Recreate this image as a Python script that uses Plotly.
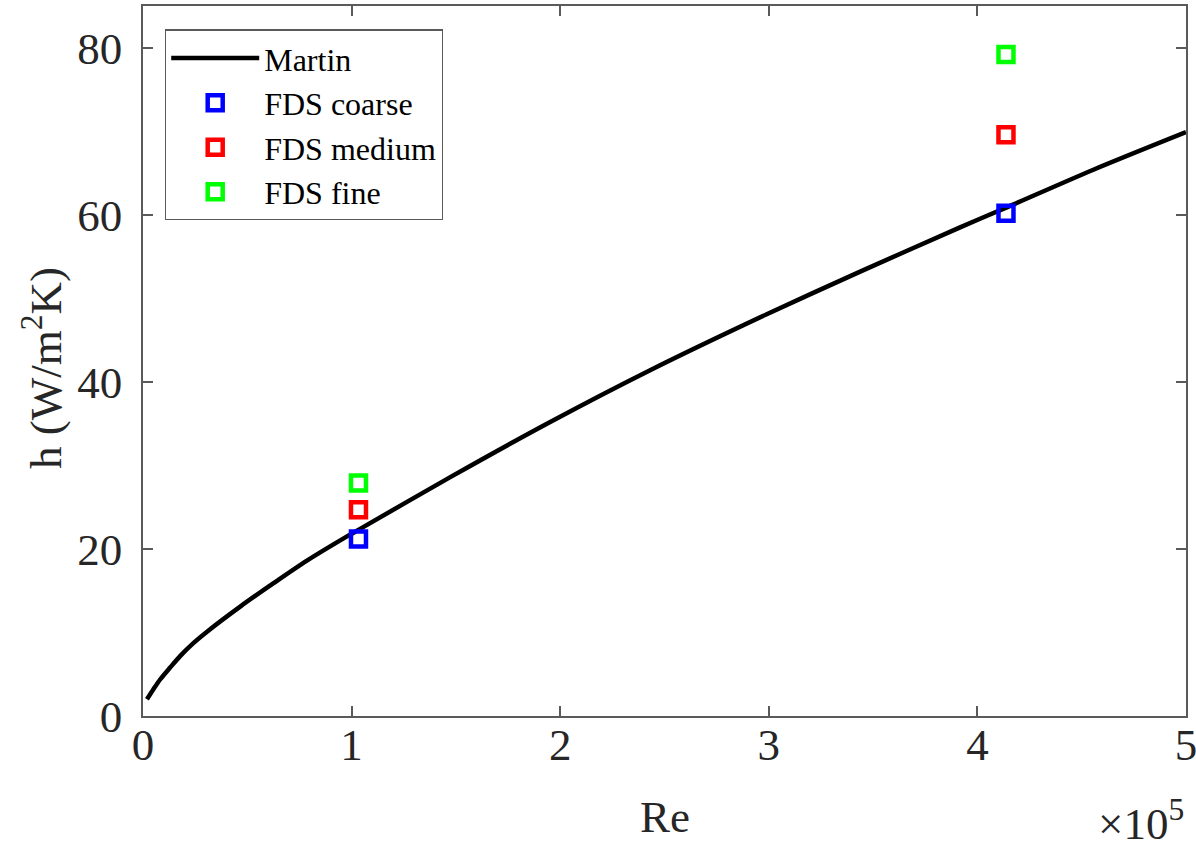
import plotly.graph_objects as go

# Martin correlation curve (Re, h)
martin_re = [1.9e3, 5.0e3, 8.3e3, 1.3e4, 1.79e4, 2.4e4, 3.07e4, 4.66e4, 6.26e4, 7.86e4,
             9.78e4, 1.041e5, 1.473e5, 1.952e5, 2.431e5, 2.99e5, 3.438e5, 3.917e5,
             4.141e5, 4.556e5, 5.0e5]
martin_h = [2.0, 3.2, 4.4, 5.8, 7.2, 8.7, 10.1, 13.1, 15.9, 18.6,
            21.5, 22.4, 28.6, 35.2, 41.4, 48.1, 53.2, 58.5,
            60.9, 65.4, 69.9]

# FDS results
fds_re = [1.033e5, 4.137e5]
coarse_h = [21.2, 60.2]
medium_h = [24.7, 69.6]
fine_h = [27.9, 79.2]

x_ticks = [0, 1e5, 2e5, 3e5, 4e5, 5e5]
x_ticktext = ["0", "1", "2", "3", "4", "5"]
y_ticks = [0, 20, 40, 60, 80]

FONT = "Liberation Serif, Times New Roman, serif"
AX = "#5a5a5a"
TXT = "#262626"

fig = go.Figure()
fig.add_trace(go.Scatter(x=martin_re, y=martin_h, mode="lines", name="Martin",
                         line=dict(color="black", width=4.5, shape="spline", smoothing=0.8)))
for name, ys, col in [("FDS coarse", coarse_h, "#0000ff"),
                      ("FDS medium", medium_h, "#ff0000"),
                      ("FDS fine", fine_h, "#00ff00")]:
    fig.add_trace(go.Scatter(x=fds_re, y=ys, mode="markers", name=name,
                             marker=dict(symbol="square-open", size=15,
                                         color=col, line=dict(color=col, width=4.5))))

axis_common = dict(showline=True, linecolor=AX, linewidth=1.5, mirror="ticks",
                   ticks="inside", ticklen=10, tickcolor=AX, tickwidth=1.5,
                   showgrid=False, zeroline=False, ticklabeloverflow="allow",
                   automargin=False,
                   tickfont=dict(family=FONT, size=45, color=TXT))

fig.update_layout(
    width=1196, height=850,
    paper_bgcolor="white", plot_bgcolor="white",
    margin=dict(l=143, r=10, t=6, b=134, autoexpand=False),
    font=dict(family=FONT, color=TXT),
    xaxis=dict(range=[0, 5e5], tickvals=x_ticks, ticktext=x_ticktext,
               ticklabelstandoff=-12, **axis_common),
    yaxis=dict(range=[0, 85], tickvals=y_ticks, ticklabelstandoff=10,
               **axis_common),
    legend=dict(x=0.021, y=0.967, xanchor="left", yanchor="top",
                bgcolor="white", bordercolor=AX, borderwidth=1.3,
                font=dict(family=FONT, size=32, color="black"),
                itemwidth=88, tracegroupgap=0),
    showlegend=True,
)
# axis titles
fig.add_annotation(text="Re", xref="paper", yref="paper", x=0.5, y=-0.142,
                   xanchor="center", yanchor="middle", showarrow=False,
                   font=dict(family=FONT, size=45, color=TXT))
fig.add_annotation(text="h (W/m<sup>2</sup>K)", xref="paper", yref="paper",
                   x=-0.097, y=0.49, xanchor="center", yanchor="middle",
                   textangle=-90, showarrow=False,
                   font=dict(family=FONT, size=45, color=TXT))
fig.add_annotation(text="×10<sup>5</sup>", xref="paper", yref="paper",
                   x=1.0, y=-0.19, xanchor="right", yanchor="bottom", showarrow=False,
                   font=dict(family=FONT, size=45, color=TXT))

fig.write_html("out.html", config={"displayModeBar": False},
               post_script="document.body.style.margin='0';")
